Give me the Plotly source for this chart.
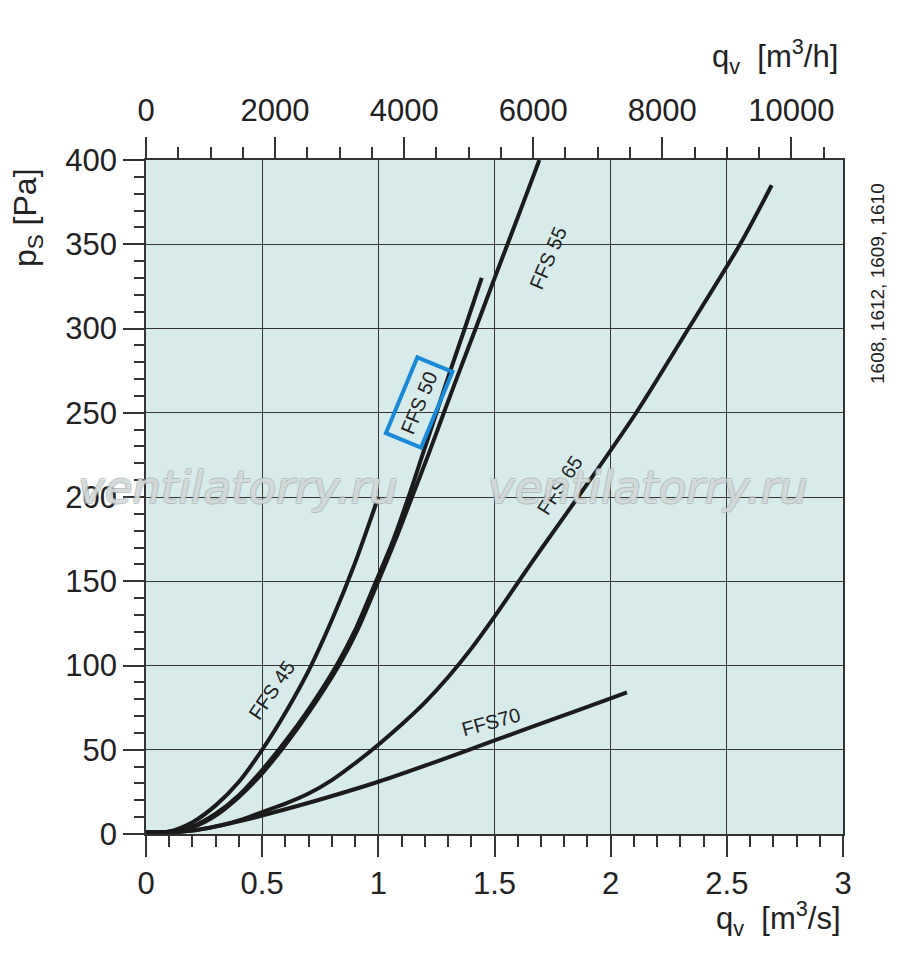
import plotly.graph_objects as go

# fan curves, q in m3/s, ps in Pa
q_ffs45 = [0, 0.1, 0.2, 0.3, 0.4, 0.5, 0.6, 0.7, 0.8, 0.9, 1.0]
p_ffs45 = [1, 1.5, 7, 17, 31, 50, 72, 97, 127, 161, 200]

q_ffs50 = [0, 0.1, 0.2, 0.3, 0.4, 0.5, 0.6, 0.7, 0.82, 0.9, 0.99, 1.06, 1.13, 1.19, 1.25, 1.31, 1.372, 1.445]
p_ffs50 = [1, 1.3, 4.5, 12, 23, 38, 55, 74, 100, 121, 150, 173, 200, 225, 250, 275, 300, 330]

q_ffs55 = [0, 0.1, 0.2, 0.3, 0.4, 0.5, 0.6, 0.7, 0.83, 0.91, 1.0, 1.075, 1.145, 1.215, 1.282, 1.35, 1.419, 1.487, 1.556, 1.625, 1.693]
p_ffs55 = [1, 1.3, 4, 11, 22, 36, 53, 72, 100, 121, 150, 175, 200, 225, 250, 275, 300, 325, 350, 375, 400]

q_ffs65 = [0, 0.1, 0.2, 0.3, 0.4, 0.5, 0.6, 0.7, 0.8, 0.9, 1.0, 1.1, 1.2, 1.3, 1.4, 1.5, 1.6, 1.7, 1.86, 2.11, 2.335, 2.557, 2.693]
p_ffs65 = [1, 1, 2, 4.5, 8, 13, 18, 24, 32, 42, 53, 65, 78, 93, 110, 129, 149, 169, 200, 250, 300, 350, 385]

q_ffs70 = [0, 0.1, 0.2, 0.3, 0.4, 0.5, 0.75, 1.0, 1.25, 1.5, 1.75, 2.0, 2.07]
p_ffs70 = [1, 1, 2, 4.5, 7.5, 11, 20.5, 31, 43, 55.5, 68, 80.5, 84]

curves = [
    (q_ffs45, p_ffs45), (q_ffs50, p_ffs50), (q_ffs55, p_ffs55),
    (q_ffs65, p_ffs65), (q_ffs70, p_ffs70),
]

# curve labels: text, x, y, angle
labels = [
    ("FFS 45", 0.542, 85.5, -56),
    ("FFS 55", 1.73, 342, -67),
    ("FFS 65", 1.782, 207, -57),
    ("FFS70", 1.484, 66.6, -15),
]

x_ticks = [0, 0.5, 1, 1.5, 2, 2.5, 3]
x_tick_text = ["0", "0.5", "1", "1.5", "2", "2.5", "3"]
x2_ticks = [0, 2000, 4000, 6000, 8000, 10000]
x2_tick_text = ["0", "2000", "4000", "6000", "8000", "10000"]
y_ticks = [0, 50, 100, 150, 200, 250, 300, 350, 400]

FONT = "Liberation Sans"
INK = "#1b1b1b"
TXT = "#222"

# plot area as it lands on screen (page has an 8px body margin)
PX0, PX1, PY0, PY1 = 146, 843, 160, 834


def paper(sx, sy):
    return (sx - PX0) / (PX1 - PX0), (PY1 - sy) / (PY1 - PY0)


fig = go.Figure()
for q, p in curves:
    fig.add_trace(go.Scatter(x=q, y=p, mode="lines",
                             line=dict(color=INK, width=4, shape="spline", smoothing=0.8),
                             hoverinfo="skip", showlegend=False))

# same curve in m3/h on the top axis, invisible, so the top axis gets drawn
fig.add_trace(go.Scatter(x=[v * 3600 for v in q_ffs65], y=p_ffs65, xaxis="x2", mode="lines",
                         line=dict(color="rgba(0,0,0,0)"), hoverinfo="skip", showlegend=False))

for txt, x, y, ang in labels:
    fig.add_annotation(x=x, y=y, text=txt, textangle=ang, showarrow=False,
                       font=dict(family=FONT, size=20, color=TXT))

# boxed label
fig.add_annotation(x=1.174, y=256, text="FFS 50", textangle=-67.5, showarrow=False,
                   font=dict(family=FONT, size=20, color=TXT),
                   bordercolor="#1a8ad8", borderwidth=4, borderpad=6, bgcolor="rgba(0,0,0,0)")

# watermark
for sx in [238, 648]:
    px, py = paper(sx, 487)
    fig.add_annotation(x=px, y=py, xref="paper", yref="paper", text="<i>ventilatorry.ru</i>",
                       showarrow=False, xanchor="center", yanchor="middle",
                       font=dict(family="DejaVu Sans", size=45, color="rgba(255,255,255,0.5)",
                                 shadow="-1px -1px 0 #a3adad, 1px -1px 0 #a3adad, -1px 1px 0 #a3adad, 1px 1px 0 #a3adad"))

# axis titles and side note, placed by screen pixels
texts = [
    ("p<sub>S</sub> [Pa]", 27, 217, -90, 32, "center"),
    ("q<sub>v</sub>  [m<sup>3</sup>/s]", 843, 918, 0, 31, "right"),
    ("q<sub>v</sub>  [m<sup>3</sup>/h]", 840, 56, 0, 31, "right"),
    ("1608, 1612, 1609, 1610", 877, 284, -90, 19, "center"),
]
for txt, sx, sy, ang, size, xa in texts:
    px, py = paper(sx, sy)
    fig.add_annotation(x=px, y=py, xref="paper", yref="paper", text=txt, textangle=ang,
                       showarrow=False, xanchor=xa, yanchor="middle",
                       font=dict(family=FONT, size=size, color=TXT))

axis_common = dict(ticks="outside", ticklen=21, tickwidth=1.5, tickcolor="#333",
                   showline=True, linecolor="#333", linewidth=1.5,
                   tickfont=dict(family=FONT, size=31, color=TXT))

W, H = 900, 969
L, T = PX0 - 8, PY0 - 8
R = W - L - (PX1 - PX0)
B = H - T - (PY1 - PY0)

fig.update_layout(
    width=W, height=H,
    margin=dict(l=L, r=R, t=T, b=B),
    paper_bgcolor="white",
    plot_bgcolor="#d6ebea",
    xaxis=dict(range=[0, 3], tickvals=x_ticks, ticktext=x_tick_text, showgrid=True,
               gridcolor="#333", gridwidth=1.3, zeroline=False, ticklabelstandoff=0,
               minor=dict(dtick=0.1, ticks="outside", ticklen=11, tickcolor="#333", showgrid=False),
               **axis_common),
    xaxis2=dict(range=[0, 10800], overlaying="x", side="top", tickvals=x2_ticks,
                ticktext=x2_tick_text, showgrid=False, zeroline=False, ticklabelstandoff=4,
                minor=dict(dtick=500, ticks="outside", ticklen=11, tickcolor="#333", showgrid=False),
                **axis_common),
    yaxis=dict(range=[0, 400], tickvals=y_ticks, showgrid=True, gridcolor="#333", gridwidth=1.3,
               zeroline=False, mirror=True, ticklabelstandoff=0,
               minor=dict(dtick=10, ticks="outside", ticklen=10, tickcolor="#333", showgrid=False),
               **axis_common),
)

fig.write_html("out.html")
